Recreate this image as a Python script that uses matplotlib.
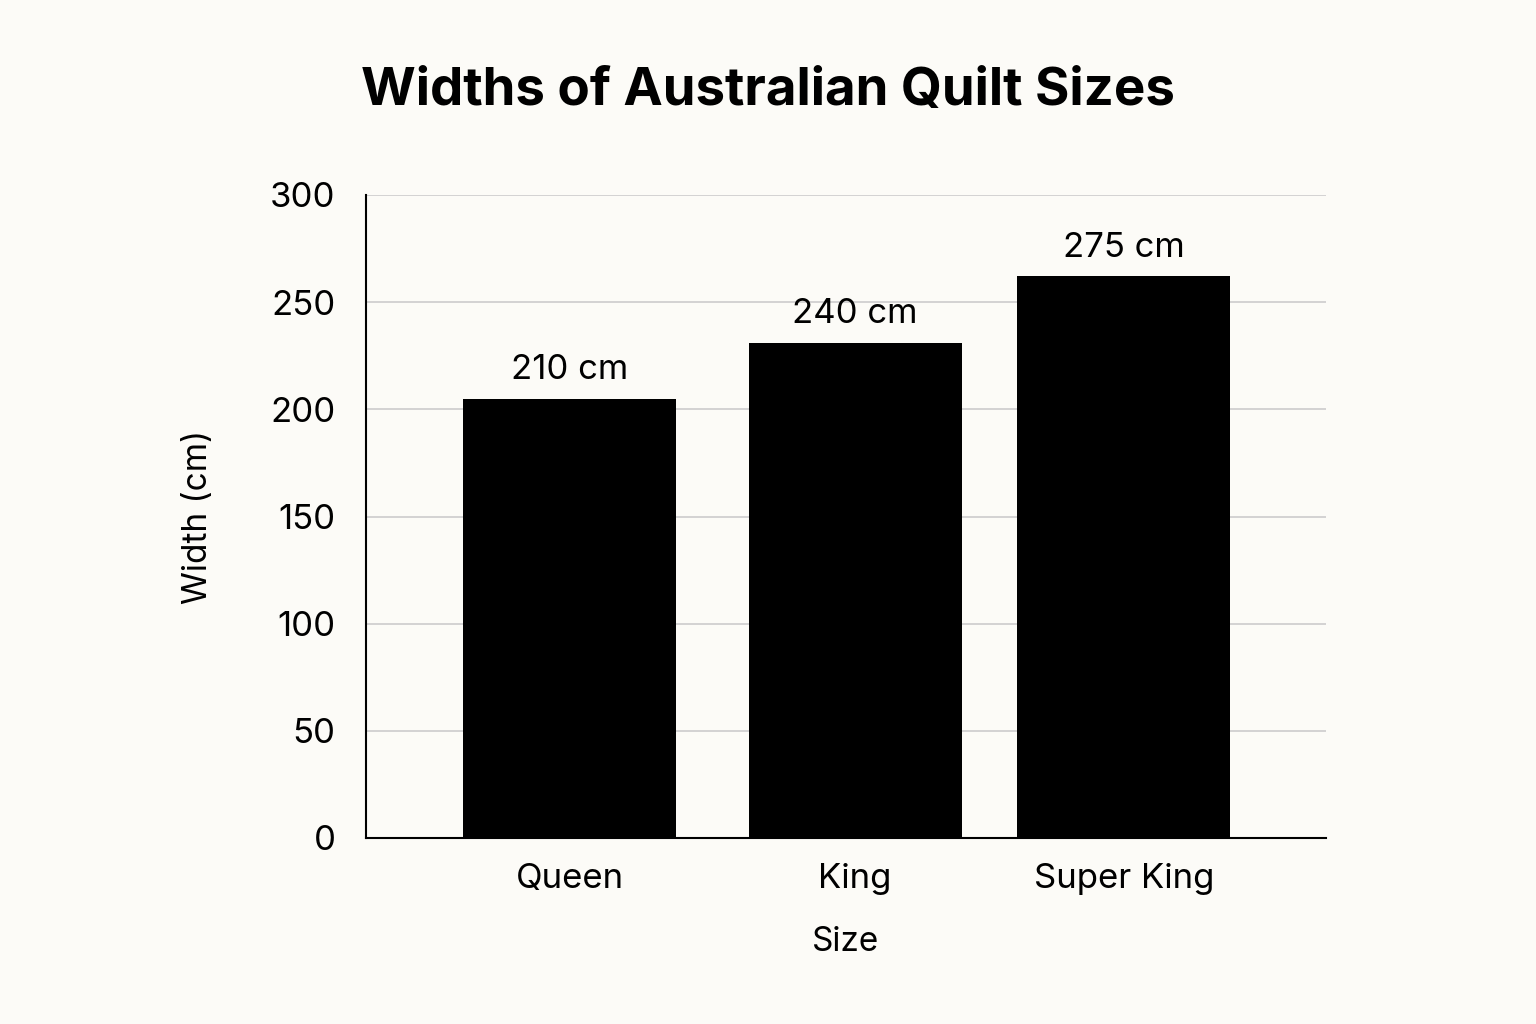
import matplotlib.pyplot as plt

# Data
sizes = ["Queen", "King", "Super King"]
bar_heights = [205, 231, 262]          # drawn bar heights (cm on axis)
bar_labels = ["210 cm", "240 cm", "275 cm"]
y_ticks = [0, 50, 100, 150, 200, 250, 300]

plt.rcParams['font.family'] = ['Inter', 'DejaVu Sans']
bg = "#fcfbf7"

fig = plt.figure(figsize=(15.36, 10.24), dpi=100, facecolor=bg)
ax = fig.add_axes([366 / 1536, 1 - 838 / 1024, (1326 - 366) / 1536, (838 - 195) / 1024])
ax.set_facecolor(bg)

x = [0, 1.03, 2.0]
bars = ax.bar(x, bar_heights, width=0.77, color="black", zorder=3)
for b, lab in zip(bars, bar_labels):
    ax.text(b.get_x() + b.get_width() / 2, b.get_height() + 6, lab,
            ha="center", va="bottom", fontsize=25, zorder=4)

ax.set_ylim(0, 300)
ax.set_xlim(-0.736, 2.73)
ax.set_yticks(y_ticks)
ax.set_xticks(x)
ax.set_xticklabels(sizes)
ax.tick_params(axis="both", length=0, labelsize=25)
ax.tick_params(axis="y", pad=22)
ax.tick_params(axis="x", pad=18)
ax.grid(axis="y", color="#cccccc", linewidth=1.2, zorder=0)
for s in ["top", "right"]:
    ax.spines[s].set_visible(False)
ax.spines["left"].set_linewidth(1.5)
ax.spines["bottom"].set_linewidth(1.5)

ax.set_xlabel("Size", fontsize=24, labelpad=22)
ax.set_ylabel("Width (cm)", fontsize=24, labelpad=40)
fig.text(0.5, 1 - 92 / 1024, "Widths of Australian Quilt Sizes",
         ha="center", va="center", fontsize=38, fontweight="bold")

fig.savefig("out.png", dpi=100, facecolor=bg)
